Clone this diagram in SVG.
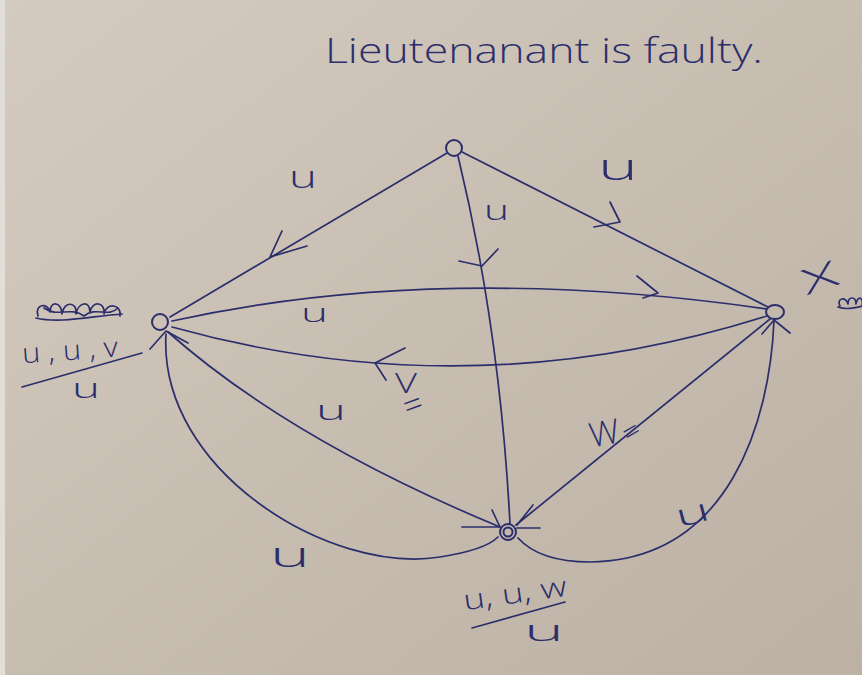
<svg xmlns="http://www.w3.org/2000/svg" width="862" height="675" viewBox="0 0 862 675">
<defs>
<linearGradient id="paper" x1="0" y1="0" x2="1" y2="1">
<stop offset="0" stop-color="#d4cbc0"/>
<stop offset="0.5" stop-color="#c8bdb1"/>
<stop offset="1" stop-color="#bcb1a4"/>
</linearGradient>
<style>
.ink{fill:none;stroke:#2c2e6c;stroke-width:1.7;stroke-linecap:round;stroke-linejoin:round}
.node{fill:none;stroke:#2c2e6c;stroke-width:2}
.lbl{font-family:"Open Sans","Liberation Sans","DejaVu Sans",sans-serif;font-weight:300;fill:#2c2e6c}
</style>
</defs>
<rect x="0" y="0" width="862" height="675" fill="url(#paper)"/>
<rect x="0" y="0" width="5" height="675" fill="#e2ddd6"/>

<text class="lbl" x="325" y="63" font-size="34" textLength="438" lengthAdjust="spacingAndGlyphs">Lieutenanant is faulty.</text>

<g id="connectors">
<!-- top -> left -->
<path class="ink" d="M447,153 L170,317"/>
<path class="ink" d="M282,231 L270,257 L307,246"/>
<!-- top -> right -->
<path class="ink" d="M462,152 L768,307"/>
<path class="ink" d="M610,202 L620,222 L594,227"/>
<!-- top -> bottom -->
<path class="ink" d="M458,156 Q500,330 510,524"/>
<path class="ink" d="M459,261 L482,266 L498,249"/>
<!-- left -> right (upper) -->
<path class="ink" d="M172,321 Q440,262 767,309"/>
<path class="ink" d="M637,276 L658,293 L643,298"/>
<!-- right -> left (lower) -->
<path class="ink" d="M767,316 Q470,410 172,327"/>
<path class="ink" d="M405,348 L375,363 L386,380"/>
<!-- bottom -> left (straight) -->
<path class="ink" d="M168,332 Q290,440 500,527"/>
<path class="ink" d="M150,349 L166,331 L188,343"/>
<!-- left -> bottom (curve) -->
<path class="ink" d="M166,334 C158,470 330,575 440,557 Q485,550 498,537"/>
<path class="ink" d="M492,510 L500,527 L462,527"/>
<!-- bottom -> right (straight) -->
<path class="ink" d="M516,525 L770,319"/>
<path class="ink" d="M762,334 L774,320 L790,333"/>
<!-- right -> bottom (curve) -->
<path class="ink" d="M774,320 C770,420 730,560 590,562 Q540,562 518,538"/>
<path class="ink" d="M533,505 L517,525 M517,528 L540,528"/>
</g>

<g id="edge-labels">
<text class="lbl" x="289" y="188" font-size="32" textLength="28" lengthAdjust="spacingAndGlyphs">u</text>
<text class="lbl" x="598" y="180" font-size="36" textLength="40" lengthAdjust="spacingAndGlyphs">u</text>
<text class="lbl" x="484" y="220" font-size="28" textLength="25" lengthAdjust="spacingAndGlyphs">u</text>
<text class="lbl" x="301" y="322" font-size="26" textLength="27" lengthAdjust="spacingAndGlyphs">u</text>
<text class="lbl" x="395" y="393" font-size="28" textLength="22" lengthAdjust="spacingAndGlyphs">V</text>
<text class="lbl" x="403" y="416" font-size="34" transform="rotate(-20 414 404)">=</text>
<text class="lbl" x="316" y="420" font-size="28" textLength="30" lengthAdjust="spacingAndGlyphs">u</text>
<text class="lbl" x="589" y="445" font-size="34" textLength="30" lengthAdjust="spacingAndGlyphs" transform="rotate(-10 604 432)">W</text>
<text class="lbl" x="621" y="441" font-size="30" transform="rotate(-30 632 428)">=</text>
<text class="lbl" x="270" y="567" font-size="34" textLength="40" lengthAdjust="spacingAndGlyphs">u</text>
<text class="lbl" x="676" y="524" font-size="32" textLength="34" lengthAdjust="spacingAndGlyphs" transform="rotate(-15 692 515)">u</text>
</g>

<g id="node-top"><circle class="node" cx="454" cy="148" r="8"/></g>

<g id="node-left">
<circle class="node" cx="160" cy="322" r="8"/>
<path class="ink" d="M38,316 C34,304 48,302 50,312 C50,300 62,302 62,314 C64,300 78,302 76,314 C78,302 90,300 90,312 C92,300 106,302 104,314 C106,302 122,304 120,316 M36,318 C60,324 92,316 122,314 M44,308 C58,318 70,306 84,316 C96,306 108,318 118,308"/>
<text class="lbl" x="22" y="360" font-size="28" textLength="96" lengthAdjust="spacingAndGlyphs" transform="rotate(-4 70 352)">u , u , v</text>
<path class="ink" d="M22,387 L142,353"/>
<text class="lbl" x="72" y="398" font-size="28" textLength="28" lengthAdjust="spacingAndGlyphs">u</text>
</g>

<g id="node-right">
<ellipse class="node" cx="775" cy="312" rx="9" ry="7"/>
<text class="lbl" x="820" y="293" font-size="44" text-anchor="middle" transform="rotate(-19 820 279) scale(1.5 0.8) translate(-273.3 69.75)">X</text>
<path class="ink" d="M840,306 C836,298 846,296 848,304 C848,296 856,296 856,304 C857,296 864,296 862,306 M838,307 C846,310 854,308 862,306"/>
</g>

<g id="node-bottom">
<circle class="node" cx="508" cy="532" r="8"/>
<circle class="node" cx="508" cy="532" r="4.5"/>
<text class="lbl" x="463" y="603" font-size="28" textLength="104" lengthAdjust="spacingAndGlyphs" transform="rotate(-8 515 594)">u, u, w</text>
<path class="ink" d="M472,628 L565,602"/>
<text class="lbl" x="524" y="641" font-size="30" textLength="40" lengthAdjust="spacingAndGlyphs">u</text>
</g>
</svg>
